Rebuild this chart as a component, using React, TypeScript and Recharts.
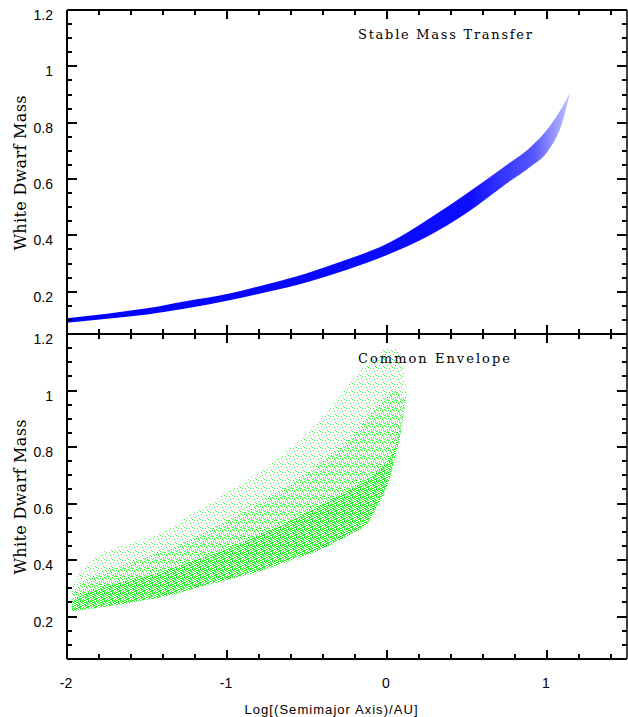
import { Area, ComposedChart, XAxis, YAxis } from 'recharts';

// shared axis ticks
const xTicks = [-2, -1.8, -1.6, -1.4, -1.2, -1, -0.8, -0.6, -0.4, -0.2, 0, 0.2, 0.4, 0.6, 0.8, 1, 1.2, 1.4];
const xMajor = [-2, -1, 0, 1];
const yTicks = [
  0.05, 0.1, 0.15, 0.2, 0.25, 0.3, 0.35, 0.4, 0.45, 0.5, 0.55, 0.6, 0.65, 0.7, 0.75, 0.8, 0.85, 0.9, 0.95, 1,
  1.05, 1.1, 1.15, 1.2,
];
const yMajor = [0.2, 0.4, 0.6, 0.8, 1, 1.2];

// stable mass transfer band (lower / upper edge of the point cloud)
const blueX = [-2, -1.75, -1.5, -1.25, -1, -0.75, -0.5, -0.25, 0, 0.25, 0.5, 0.75, 0.9, 1.0, 1.1, 1.14];
const blueLo = [0.09, 0.104, 0.119, 0.141, 0.168, 0.199, 0.234, 0.278, 0.33, 0.395, 0.48, 0.585, 0.645, 0.695, 0.81, 0.897];
const blueHi = [0.106, 0.122, 0.141, 0.167, 0.192, 0.227, 0.266, 0.314, 0.37, 0.455, 0.55, 0.651, 0.715, 0.775, 0.86, 0.903];

// common envelope cloud: sparse outer edge, medium and dense core
const greenX = [-1.97, -1.9, -1.8, -1.6, -1.4, -1.2, -1.0, -0.8, -0.6, -0.4, -0.2, -0.14, -0.05, 0, 0.05, 0.1, 0.125];
const greenLo = [0.22, 0.225, 0.232, 0.25, 0.27, 0.3, 0.33, 0.36, 0.4, 0.44, 0.5, 0.52, 0.6, 0.66, 0.76, 0.9, 1.0];
const greenOuterHi = [0.31, 0.37, 0.42, 0.46, 0.5, 0.57, 0.64, 0.71, 0.8, 0.91, 1.05, 1.09, 1.13, 1.15, 1.15, 1.08, 1.0];
const greenMidHi = [0.28, 0.32, 0.35, 0.39, 0.43, 0.48, 0.54, 0.6, 0.67, 0.75, 0.85, 0.89, 0.95, 0.98, 1.0, 0.98, 1.0];
const greenCoreHi = [0.25, 0.28, 0.3, 0.33, 0.36, 0.4, 0.44, 0.49, 0.54, 0.6, 0.66, 0.68, 0.72, 0.75, 0.8, 0.92, 1.0];

const blueRows = blueX.map((x, i) => ({ x, lo: blueLo[i], hi: blueHi[i] }));
const greenRows = greenX.map((x, i) => ({
  x,
  lo: greenLo[i],
  outer: greenOuterHi[i],
  mid: greenMidHi[i],
  core: greenCoreHi[i],
}));

const FONT = 'Liberation Sans, Arial, sans-serif';
const SERIF = 'DejaVu Serif, serif';
const isMajor = (v: number, list: number[]) => list.some((m) => Math.abs(m - v) < 1e-6);

// plot frame of both panels (page pixels), used for the tick marks
const PLOT_L = 67;
const PLOT_R = 627;
const panels = [
  { top: 10, bottom: 334 },
  { top: 334, bottom: 659 },
];
const X_DOMAIN = [-2, 1.5];
const Y_DOMAIN = [0.05, 1.2];
const px = (v: number) => PLOT_L + ((v - X_DOMAIN[0]) / (X_DOMAIN[1] - X_DOMAIN[0])) * (PLOT_R - PLOT_L);
const py = (v: number, p: { top: number; bottom: number }) =>
  p.bottom - ((v - Y_DOMAIN[0]) / (Y_DOMAIN[1] - Y_DOMAIN[0])) * (p.bottom - p.top);

// dot layouts for the scatter-like fills (8x8 tiles)
const sparseDots = [[1, 2], [5, 0], [3, 5], [7, 6], [6, 3], [0, 7], [2, 0]];
const midDots = [[0, 1], [2, 3], [4, 0], [6, 2], [1, 6], [5, 5], [3, 7], [7, 4], [4, 2]];
const coreDots = [
  [0, 0], [2, 1], [4, 0], [6, 1], [1, 2], [3, 3], [5, 2], [7, 3], [0, 4], [2, 5], [4, 4], [6, 5],
  [1, 6], [3, 7], [5, 6], [7, 7], [3, 1], [6, 7], [0, 6], [5, 4],
];

function dotPattern(id: string, dots: number[][], color: string) {
  return (
    <pattern id={id} width={8} height={8} patternUnits="userSpaceOnUse">
      {dots.map(([x, y]) => (
        <rect key={`${x}-${y}`} x={x} y={y} width={1} height={1} fill={color} />
      ))}
    </pattern>
  );
}

const leftLabel = (p: any) =>
  isMajor(p.payload.value, yMajor) ? (
    <text x={p.x - 14} y={p.y + 10} textAnchor="end" fontSize={14} fontFamily={FONT} fill="#000">
      {String(p.payload.value)}
    </text>
  ) : (
    <g />
  );

const bottomLabel = (p: any) =>
  isMajor(p.payload.value, xMajor) ? (
    <text x={p.x - 1} y={p.y + 29} textAnchor="middle" fontSize={14} fontFamily={FONT} fill="#000">
      {String(p.payload.value)}
    </text>
  ) : (
    <g />
  );

const noLabel = () => <g />;

function TickMarks() {
  return (
    <g stroke="#000" strokeWidth={2} shapeRendering="crispEdges">
      {panels.map((p, pi) => (
        <g key={pi}>
          {yTicks.map((v) => {
            const len = isMajor(v, yMajor) ? 10 : 5;
            const y = Math.round(py(v, p));
            return (
              <g key={`y${v}`}>
                <line x1={PLOT_L} x2={PLOT_L + len} y1={y} y2={y} />
                <line x1={PLOT_R} x2={PLOT_R - len} y1={y} y2={y} />
              </g>
            );
          })}
          {xTicks.map((v) => {
            const len = isMajor(v, xMajor) ? 9 : 5;
            const x = Math.round(px(v));
            return (
              <g key={`x${v}`}>
                <line x1={x} x2={x} y1={p.top} y2={p.top + len} />
                <line x1={x} x2={x} y1={p.bottom} y2={p.bottom - len} />
              </g>
            );
          })}
        </g>
      ))}
    </g>
  );
}

export default function App() {
  return (
    <div style={{ position: 'absolute', left: 0, top: 0, width: 628, height: 717, background: '#fff' }}>
      <div style={{ position: 'absolute', left: 0, top: 0 }}>
        <ComposedChart width={628} height={340} data={blueRows} margin={{ top: 9, right: 0, bottom: 5, left: 0 }}>
          <defs>
            <linearGradient id="blueFade" x1="0" y1="0" x2="1" y2="0">
              <stop offset="0" stopColor="#0000ff" stopOpacity={1} />
              <stop offset="0.8" stopColor="#0000ff" stopOpacity={0.95} />
              <stop offset="0.93" stopColor="#2020ff" stopOpacity={0.75} />
              <stop offset="1" stopColor="#6a6aff" stopOpacity={0.45} />
            </linearGradient>
          </defs>
          <XAxis
            xAxisId="b"
            dataKey="x"
            type="number"
            domain={X_DOMAIN}
            ticks={xTicks}
            interval={0}
            height={1}
            tickSize={0}
            tickMargin={0}
            tickLine={false}
            axisLine={{ stroke: '#000', strokeWidth: 2 }}
            tick={noLabel}
          />
          <XAxis
            xAxisId="t"
            dataKey="x"
            orientation="top"
            type="number"
            domain={X_DOMAIN}
            ticks={xTicks}
            interval={0}
            height={1}
            tickSize={0}
            tickMargin={0}
            tickLine={false}
            axisLine={{ stroke: '#000', strokeWidth: 2 }}
            tick={noLabel}
          />
          <YAxis
            yAxisId="l"
            type="number"
            domain={Y_DOMAIN}
            ticks={yTicks}
            interval={0}
            width={67}
            tickSize={0}
            tickMargin={0}
            tickLine={false}
            axisLine={{ stroke: '#000', strokeWidth: 2 }}
            tick={leftLabel}
          />
          <YAxis
            yAxisId="r"
            orientation="right"
            type="number"
            domain={Y_DOMAIN}
            ticks={yTicks}
            interval={0}
            width={1}
            tickSize={0}
            tickMargin={0}
            tickLine={false}
            axisLine={{ stroke: '#000', strokeWidth: 1.5 }}
            tick={noLabel}
          />
          <Area
            xAxisId="b"
            yAxisId="l"
            type="monotone"
            dataKey={(d: any) => [d.lo, d.hi]}
            stroke="none"
            fill="url(#blueFade)"
            fillOpacity={1}
            isAnimationActive={false}
          />
          <Area
            xAxisId="t"
            yAxisId="r"
            type="monotone"
            dataKey={(d: any) => [d.lo, d.hi]}
            stroke="none"
            fill="none"
            isAnimationActive={false}
          />
        </ComposedChart>
      </div>

      <div style={{ position: 'absolute', left: 0, top: 320 }}>
        <ComposedChart width={628} height={397} data={greenRows} margin={{ top: 13, right: 0, bottom: 0, left: 0 }}>
          <defs>
            {dotPattern('gSparse', sparseDots, '#33ff33')}
            {dotPattern('gMid', midDots, '#22f522')}
            {dotPattern('gCore', coreDots, '#11ee11')}
          </defs>
          <XAxis
            xAxisId="b"
            dataKey="x"
            type="number"
            domain={X_DOMAIN}
            ticks={xTicks}
            interval={0}
            height={58}
            tickSize={0}
            tickMargin={0}
            tickLine={false}
            axisLine={{ stroke: '#000', strokeWidth: 2 }}
            tick={bottomLabel}
          />
          <XAxis
            xAxisId="t"
            dataKey="x"
            orientation="top"
            type="number"
            domain={X_DOMAIN}
            ticks={xTicks}
            interval={0}
            height={1}
            tickSize={0}
            tickMargin={0}
            tickLine={false}
            axisLine={{ stroke: '#000', strokeWidth: 2 }}
            tick={noLabel}
          />
          <YAxis
            yAxisId="l"
            type="number"
            domain={Y_DOMAIN}
            ticks={yTicks}
            interval={0}
            width={67}
            tickSize={0}
            tickMargin={0}
            tickLine={false}
            axisLine={{ stroke: '#000', strokeWidth: 2 }}
            tick={leftLabel}
          />
          <YAxis
            yAxisId="r"
            orientation="right"
            type="number"
            domain={Y_DOMAIN}
            ticks={yTicks}
            interval={0}
            width={1}
            tickSize={0}
            tickMargin={0}
            tickLine={false}
            axisLine={{ stroke: '#000', strokeWidth: 1.5 }}
            tick={noLabel}
          />
          <Area
            xAxisId="b"
            yAxisId="l"
            type="monotone"
            dataKey={(d: any) => [d.lo, d.outer]}
            stroke="none"
            fill="url(#gSparse)"
            fillOpacity={1}
            isAnimationActive={false}
          />
          <Area
            xAxisId="b"
            yAxisId="l"
            type="monotone"
            dataKey={(d: any) => [d.lo, d.mid]}
            stroke="none"
            fill="url(#gMid)"
            fillOpacity={1}
            isAnimationActive={false}
          />
          <Area
            xAxisId="b"
            yAxisId="l"
            type="monotone"
            dataKey={(d: any) => [d.lo, d.core]}
            stroke="none"
            fill="url(#gCore)"
            fillOpacity={1}
            isAnimationActive={false}
          />
          <Area
            xAxisId="t"
            yAxisId="r"
            type="monotone"
            dataKey={(d: any) => [d.lo, d.outer]}
            stroke="none"
            fill="none"
            isAnimationActive={false}
          />
        </ComposedChart>
      </div>

      <svg width={628} height={717} style={{ position: 'absolute', left: 0, top: 0, pointerEvents: 'none' }}>
        <TickMarks />
        <text x={358} y={39} fontSize={13} fontFamily={SERIF} textLength={174} lengthAdjust="spacing">
          Stable Mass Transfer
        </text>
        <text x={358} y={363} fontSize={13} fontFamily={SERIF} textLength={152} lengthAdjust="spacing">
          Common Envelope
        </text>
        <text
          transform="translate(26,173) rotate(-90)"
          textAnchor="middle"
          fontSize={16}
          fontFamily={SERIF}
          textLength={155}
          lengthAdjust="spacing"
        >
          White Dwarf Mass
        </text>
        <text
          transform="translate(26,497) rotate(-90)"
          textAnchor="middle"
          fontSize={16}
          fontFamily={SERIF}
          textLength={155}
          lengthAdjust="spacing"
        >
          White Dwarf Mass
        </text>
        <text x={331} y={714} textAnchor="middle" fontSize={13} fontFamily={FONT} textLength={173} lengthAdjust="spacing">
          Log[(Semimajor Axis)/AU]
        </text>
      </svg>
    </div>
  );
}
